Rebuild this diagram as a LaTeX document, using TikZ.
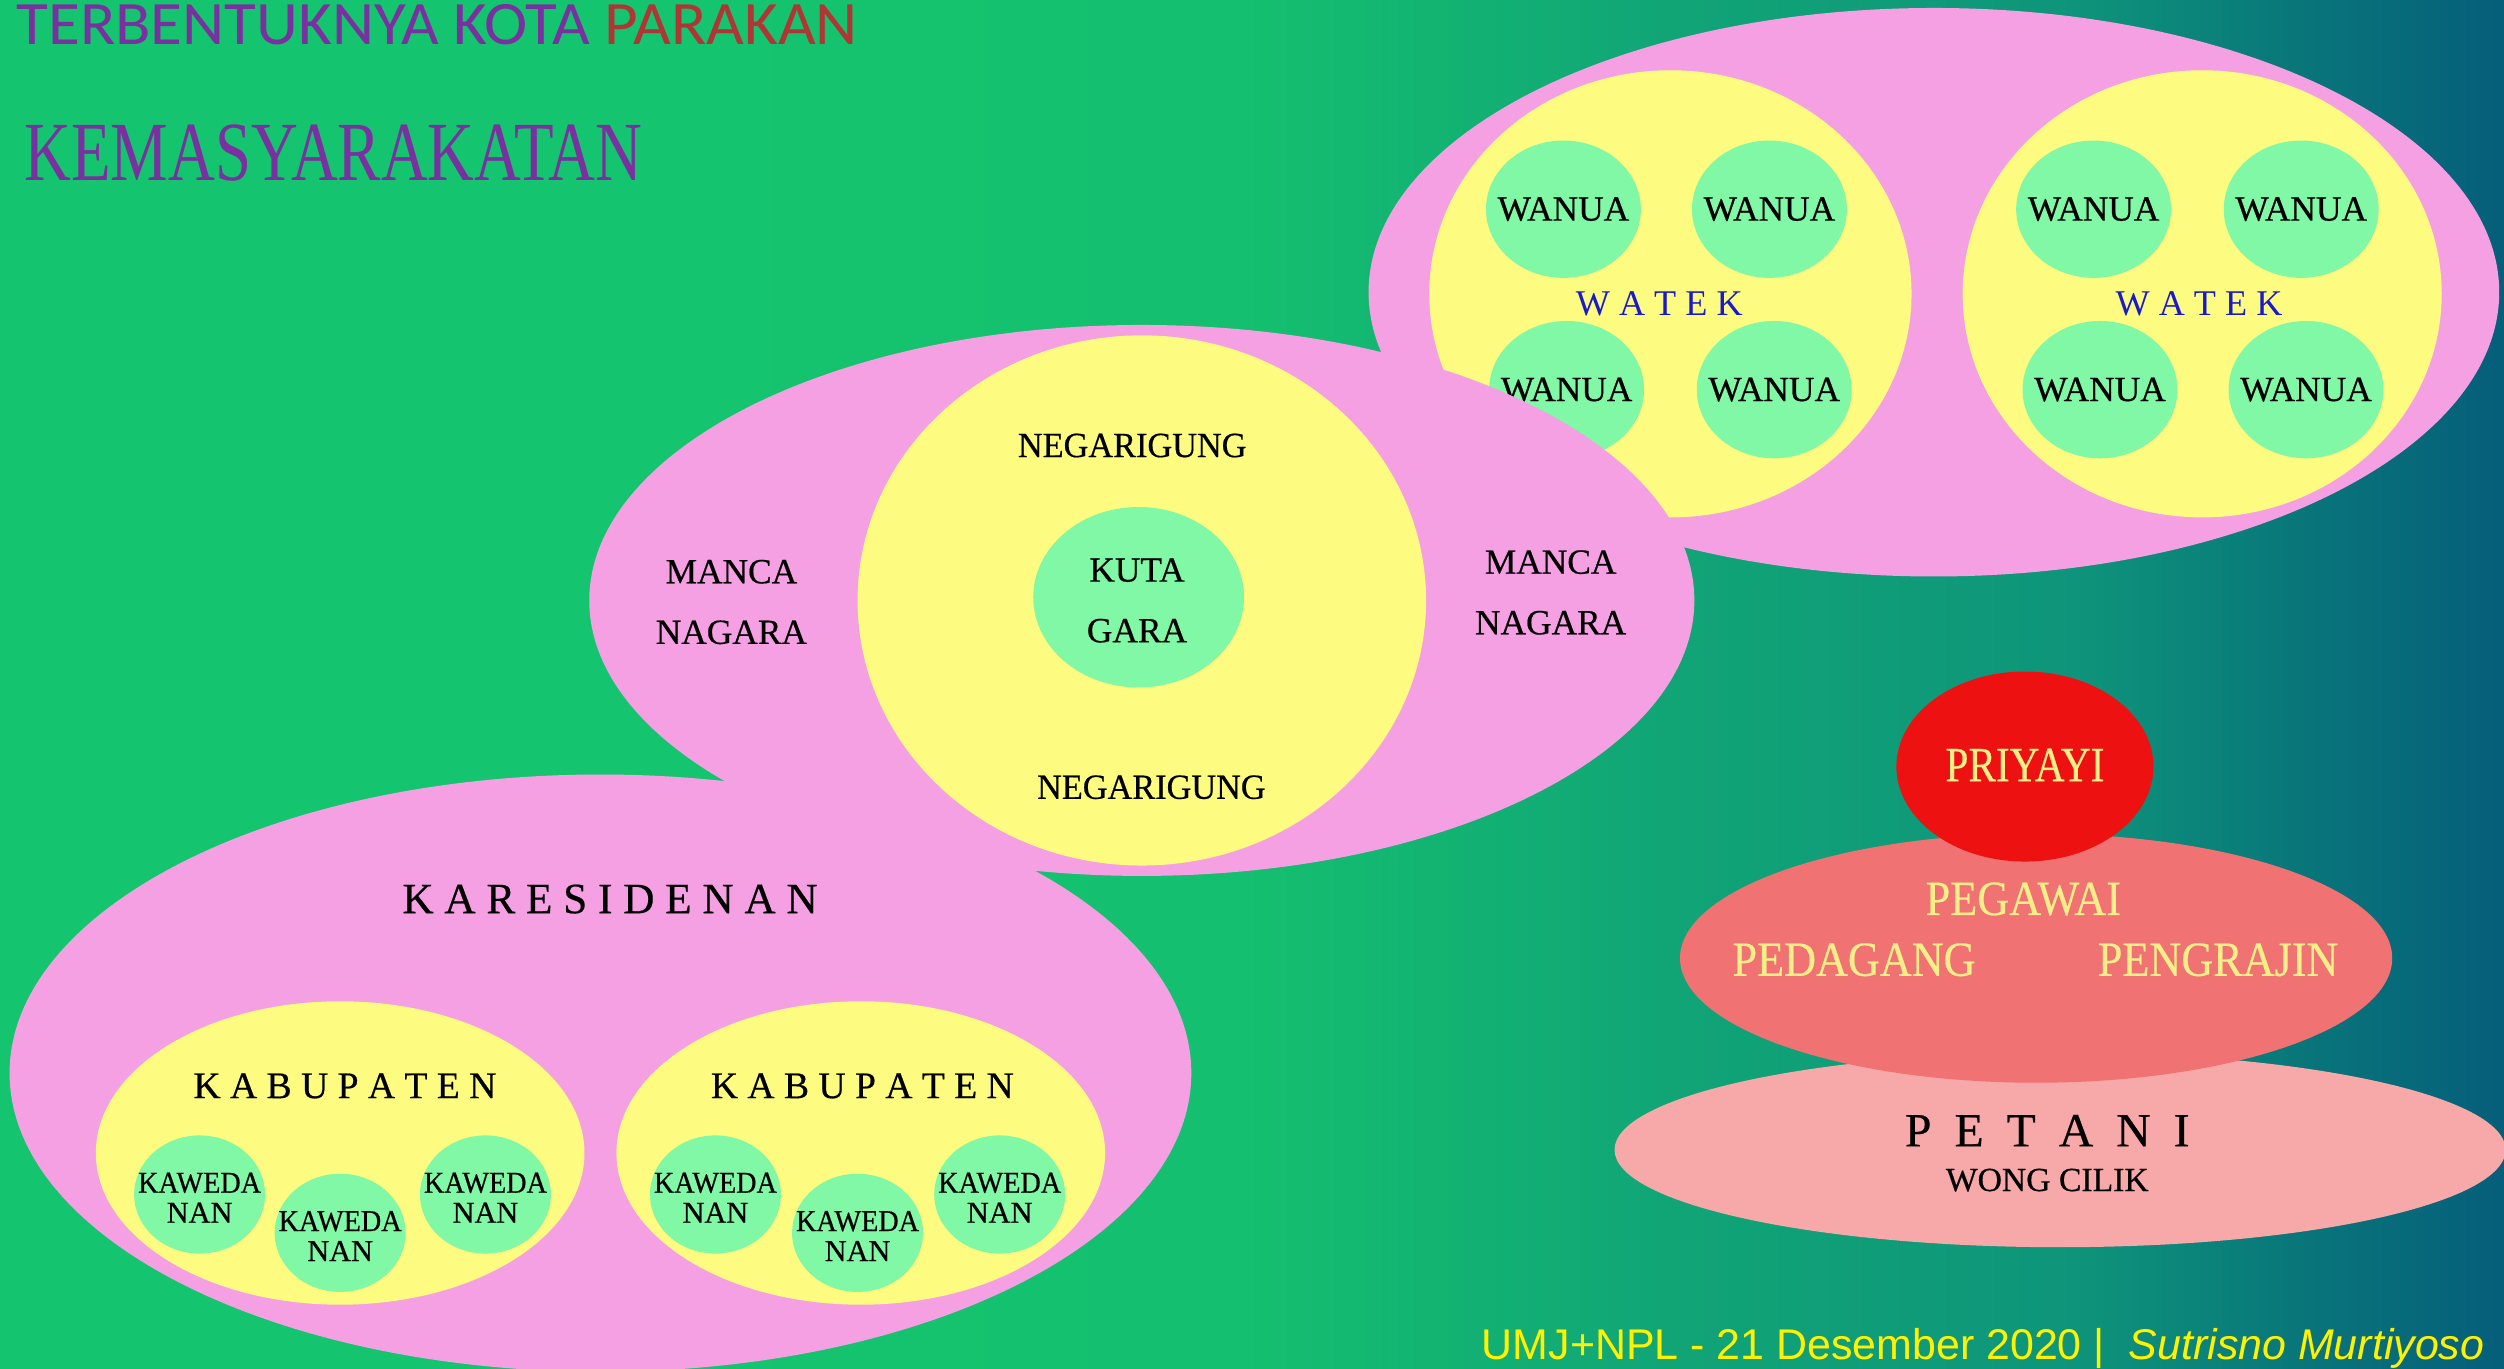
\documentclass[tikz,border=0pt]{standalone}
\usepackage{fontspec}
\usepackage{graphicx}
\setmainfont{Liberation Serif}
\newfontfamily\heavy[FakeBold=0.5]{Liberation Serif}
\newfontfamily\carlito{Carlito}
\newfontfamily\arialf{Liberation Sans}
\usetikzlibrary{shapes.geometric}

\definecolor{bg0}{RGB}{21,196,110}
\definecolor{bg1}{RGB}{20,191,111}
\definecolor{bg2}{RGB}{17,166,118}
\definecolor{bg3}{RGB}{14,148,122}
\definecolor{bg4}{RGB}{9,120,122}
\definecolor{bg5}{RGB}{5,94,122}
\definecolor{pinkc}{HTML}{F5A0E3}
\definecolor{yelc}{HTML}{FDFC80}
\definecolor{grnc}{HTML}{80F8A5}
\definecolor{redc}{HTML}{EE1111}
\definecolor{salmc}{HTML}{F07272}
\definecolor{rosec}{HTML}{F7A8A8}
\definecolor{purpc}{HTML}{7A30A0}
\definecolor{brickc}{HTML}{B03535}
\definecolor{watekc}{HTML}{1A1ACC}
\definecolor{paleyel}{HTML}{F6EE88}

% horizontally narrowed text
\newcommand{\nar}[2][0.85]{\scalebox{#1}[1]{#2}}

\tikzset{
  blob/.style={ellipse, inner sep=0pt, draw=none},
  sz/.style 2 args={minimum width=#1*0.02cm, minimum height=#2*0.02cm},
  pinkblob/.style={blob, fill=pinkc},
  yelblob/.style={blob, fill=yelc},
  grnblob/.style={blob, fill=grnc},
  lab/.style={font=\heavy\fontsize{12.6pt}{21.6pt}\selectfont, align=center, inner sep=0pt, text=black},
  wanua/.style={grnblob, sz={97}{86}},
  wlab/.style={inner sep=0pt, font=\heavy\fontsize{12.6pt}{15pt}\selectfont},
  kawe/.style={grnblob, sz={82}{74}},
  klab/.style={inner sep=0pt, align=center, font=\heavy\fontsize{10.8pt}{10.7pt}\selectfont},
  watek/.style={inner sep=0pt, text=watekc, font=\fontsize{12.9pt}{15pt}\selectfont},
  kabu/.style={inner sep=0pt, font=\heavy\fontsize{13.4pt}{16pt}\selectfont},
  pyr/.style={inner sep=0pt, text=paleyel, font=\heavy\fontsize{17.5pt}{20pt}\selectfont}
}

\begin{document}
\begin{tikzpicture}[x=0.02cm, y=-0.02cm]
% background
\useasboundingbox (0,0) rectangle (1568,857);
\fill[bg0] (0,0) rectangle (451,857);
\shade[left color=bg0, right color=bg1] (450,0) rectangle (781,857);
\shade[left color=bg1, right color=bg2] (780,0) rectangle (1031,857);
\shade[left color=bg2, right color=bg3] (1030,0) rectangle (1301,857);
\shade[left color=bg3, right color=bg4] (1300,0) rectangle (1431,857);
\shade[left color=bg4, right color=bg5] (1430,0) rectangle (1568,857);

% ---- watek zone (top right) ----
\node[pinkblob, sz={708}{356}] (watekzone) at (1211,183) {};
\node[yelblob, sz={302}{280}] (watekL) at (1046,184) {};
\node[yelblob, sz={300}{280}] (watekR) at (1379,184) {};
\foreach \n/\x/\y in {wL1/979/131, wL2/1108/131, wL3/981/244, wL4/1111/244,
                      wR1/1311/131, wR2/1441/131, wR3/1315/244, wR4/1444/244}{
  \node[wanua] (\n) at (\x,\y) {};
  \node[wlab] (\n-t) at (\n) {WANUA};
}
\node[watek] (watekTL) at (1039,190) {W A T E K};
\node[watek] (watekTR) at (1377,190) {W A T E K};

% ---- negara zone (middle) ----
\node[pinkblob, sz={692}{345}] (negara) at (715,376) {};
\node[yelblob, sz={356}{332}] (negarigung) at (715,376) {};
\node[grnblob, sz={132}{113}] (kutagara) at (713,374) {};
\node[lab] (ngTop) at (709,279) {\nar[0.97]{NEGARIGUNG}};
\node[lab] (ngBot) at (721,493) {\nar[0.97]{NEGARIGUNG}};
\node[lab] (mancaL) at (458,377) {MANCA\\NAGARA};
\node[lab] (mancaR) at (971,371) {MANCA\\NAGARA};
\node[lab] (kutaT) at (712,376) {KUTA\\GARA};

% ---- karesidenan zone (bottom left) ----
\node[pinkblob, sz={740}{374}] (kares) at (376,672) {};
\node[yelblob, sz={306}{190}] (kabL) at (213,722) {};
\node[yelblob, sz={306}{190}] (kabR) at (539,722) {};
\node[inner sep=0pt, font=\heavy\fontsize{15.4pt}{18pt}\selectfont] (karesT) at (382,563) {K A R E S I D E N A N};
\node[kabu] (kabLT) at (216,680) {K A B U P A T E N};
\node[kabu] (kabRT) at (540,680) {K A B U P A T E N};
\foreach \n/\x/\y in {kL1/125/748, kL2/213/772, kL3/304/748,
                      kR1/448/748, kR2/537/772, kR3/626/748}{
  \node[kawe] (\n) at (\x,\y) {};
  \node[klab] (\n-t) at (\x,\y+2) {\nar[0.93]{KAWEDA}\\NAN};
}

% ---- social layers (bottom right) ----
\node[blob, fill=rosec, sz={558}{122}] (petani) at (1290,720) {};
\node[blob, fill=salmc, sz={446}{156}] (middle) at (1275,600) {};
\node[blob, fill=redc, sz={161}{119}] (priyayi) at (1268,480) {};
\node[pyr] (priyayiT) at (1268,479) {\nar[0.84]{PRIYAYI}};
\node[pyr] (pegawai) at (1267,563) {\nar[0.9]{PEGAWAI}};
\node[pyr] (pedagang) at (1161,601) {\nar[0.9]{PEDAGANG}};
\node[pyr] (pengrajin) at (1389,601) {\nar[0.9]{PENGRAJIN}};
\node[inner sep=0pt, font=\heavy\fontsize{17pt}{20pt}\selectfont] (petaniT) at (1282,708)
  {P\hspace{8.2pt}E\hspace{8.2pt}T\hspace{8.2pt}A\hspace{8.2pt}N\hspace{8.2pt}I};
\node[inner sep=0pt, font=\heavy\fontsize{12pt}{14pt}\selectfont] (wongcilik) at (1282,739) {WONG CILIK};

% ---- headings ----
\node[anchor=base west, inner sep=0pt, font=\carlito\fontsize{22pt}{26pt}\selectfont] (title) at (10,28)
  {\scalebox{1.055}[1]{\textcolor{purpc}{TERBENTUKNYA KOTA} \textcolor{brickc}{PARAKAN}}};
\node[anchor=base west, inner sep=0pt, text=purpc, font=\fontsize{30pt}{34pt}\selectfont] (subtitle) at (15,113)
  {\nar[0.77]{KEMASYARAKATAN}};

% ---- footer ----
\node[anchor=base east, inner sep=0pt, text=yellow, font=\arialf\fontsize{15.3pt}{18pt}\selectfont] (footer) at (1556,851)
  {UMJ+NPL - 21 Desember 2020 |\ \ \textit{Sutrisno Murtiyoso}};
\end{tikzpicture}
\end{document}
